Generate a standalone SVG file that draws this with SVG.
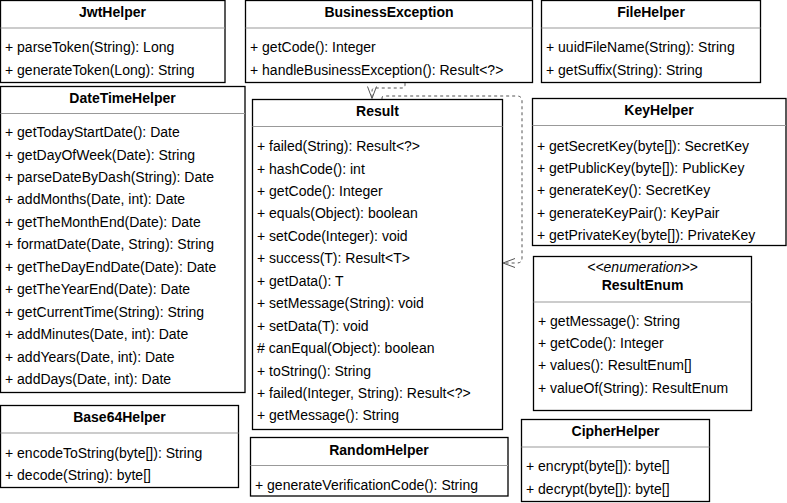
<svg xmlns="http://www.w3.org/2000/svg" width="787" height="503" viewBox="0 0 787 503">
<defs>
<style>
.box{fill:#fff;stroke:#000;stroke-width:1.3}
.div{stroke:#999;stroke-width:1}
text{font-family:"Liberation Sans",Arial,Helvetica,sans-serif;font-size:14px;fill:#000}
.t{font-weight:bold;text-anchor:middle}
.st{font-style:italic;text-anchor:middle}
.conn{fill:none;stroke:#555;stroke-width:1;stroke-dasharray:3 3}
</style>
<marker id="open" markerUnits="userSpaceOnUse" markerWidth="14" markerHeight="10" refX="12" refY="4.5" orient="auto" overflow="visible">
<path d="M0,0 L12,4.5 L0,9" fill="none" stroke="#555" stroke-width="1"/>
</marker>
</defs>
<rect width="787" height="503" fill="#fff"/>

<g id="JwtHelper">
<rect class="box" x="0.5" y="0.5" width="224.5" height="82"/>
<line class="div" x1="0.5" y1="28" x2="225" y2="28"/>
<text class="t" x="112.5" y="16.5">JwtHelper</text>
<text x="5" y="52">+ parseToken(String): Long</text>
<text x="5" y="75">+ generateToken(Long): String</text>
</g>

<g id="BusinessException">
<rect class="box" x="245.5" y="0.5" width="287" height="82"/>
<line class="div" x1="245.5" y1="28" x2="532.5" y2="28"/>
<text class="t" x="389" y="16.5">BusinessException</text>
<text x="250" y="52">+ getCode(): Integer</text>
<text x="250" y="75">+ handleBusinessException(): Result&lt;?&gt;</text>
</g>

<g id="FileHelper">
<rect class="box" x="541.5" y="0.5" width="219" height="82"/>
<line class="div" x1="541.5" y1="28" x2="760.5" y2="28"/>
<text class="t" x="651" y="16.5">FileHelper</text>
<text x="546" y="52">+ uuidFileName(String): String</text>
<text x="546" y="75">+ getSuffix(String): String</text>
</g>

<g id="DateTimeHelper">
<rect class="box" x="0.5" y="86.5" width="244.5" height="306"/>
<line class="div" x1="0.5" y1="113.5" x2="245" y2="113.5"/>
<text class="t" x="122.5" y="102.5">DateTimeHelper</text>
<text x="5" y="137">+ getTodayStartDate(): Date</text>
<text x="5" y="159.5">+ getDayOfWeek(Date): String</text>
<text x="5" y="181.9">+ parseDateByDash(String): Date</text>
<text x="5" y="204.3">+ addMonths(Date, int): Date</text>
<text x="5" y="226.8">+ getTheMonthEnd(Date): Date</text>
<text x="5" y="249.2">+ formatDate(Date, String): String</text>
<text x="5" y="271.7">+ getTheDayEndDate(Date): Date</text>
<text x="5" y="294.1">+ getTheYearEnd(Date): Date</text>
<text x="5" y="316.6">+ getCurrentTime(String): String</text>
<text x="5" y="339">+ addMinutes(Date, int): Date</text>
<text x="5" y="361.5">+ addYears(Date, int): Date</text>
<text x="5" y="383.9">+ addDays(Date, int): Date</text>
</g>

<g id="Result">
<rect class="box" x="252.5" y="99.5" width="250" height="330"/>
<line class="div" x1="252.5" y1="126.5" x2="502.5" y2="126.5"/>
<text class="t" x="377.5" y="115.5">Result</text>
<text x="257" y="151">+ failed(String): Result&lt;?&gt;</text>
<text x="257" y="173.5">+ hashCode(): int</text>
<text x="257" y="195.9">+ getCode(): Integer</text>
<text x="257" y="218.4">+ equals(Object): boolean</text>
<text x="257" y="240.8">+ setCode(Integer): void</text>
<text x="257" y="263.3">+ success(T): Result&lt;T&gt;</text>
<text x="257" y="285.7">+ getData(): T</text>
<text x="257" y="308.2">+ setMessage(String): void</text>
<text x="257" y="330.6">+ setData(T): void</text>
<text x="257" y="353.1">#  canEqual(Object): boolean</text>
<text x="257" y="375.5">+ toString(): String</text>
<text x="257" y="398">+ failed(Integer, String): Result&lt;?&gt;</text>
<text x="257" y="420.4">+ getMessage(): String</text>
</g>

<g id="KeyHelper">
<rect class="box" x="532.5" y="98.5" width="253.5" height="147"/>
<line class="div" x1="532.5" y1="125.5" x2="786" y2="125.5"/>
<text class="t" x="659" y="115">KeyHelper</text>
<text x="537" y="150.5">+ getSecretKey(byte[]): SecretKey</text>
<text x="537" y="173">+ getPublicKey(byte[]): PublicKey</text>
<text x="537" y="195.4">+ generateKey(): SecretKey</text>
<text x="537" y="217.9">+ generateKeyPair(): KeyPair</text>
<text x="537" y="240.3">+ getPrivateKey(byte[]): PrivateKey</text>
</g>

<g id="ResultEnum">
<rect class="box" x="533.5" y="256.5" width="218" height="154"/>
<line class="div" x1="533.5" y1="302" x2="751.5" y2="302"/>
<text class="st" x="642.5" y="272">&lt;&lt;enumeration&gt;&gt;</text>
<text class="t" x="642.5" y="289.5">ResultEnum</text>
<text x="538" y="325.5">+ getMessage(): String</text>
<text x="538" y="348">+ getCode(): Integer</text>
<text x="538" y="370.4">+ values(): ResultEnum[]</text>
<text x="538" y="392.9">+ valueOf(String): ResultEnum</text>
</g>

<g id="Base64Helper">
<rect class="box" x="0.5" y="405.5" width="238" height="82"/>
<line class="div" x1="0.5" y1="433" x2="238.5" y2="433"/>
<text class="t" x="119.5" y="422">Base64Helper</text>
<text x="5" y="457.5">+ encodeToString(byte[]): String</text>
<text x="5" y="480">+ decode(String): byte[]</text>
</g>

<g id="RandomHelper">
<rect class="box" x="250.5" y="437.5" width="257.5" height="58.5"/>
<line class="div" x1="250.5" y1="465.5" x2="508" y2="465.5"/>
<text class="t" x="379" y="454.5">RandomHelper</text>
<text x="255" y="490">+ generateVerificationCode(): String</text>
</g>

<g id="CipherHelper">
<rect class="box" x="521.5" y="419.5" width="188" height="82"/>
<line class="div" x1="521.5" y1="447" x2="709.5" y2="447"/>
<text class="t" x="615.5" y="436">CipherHelper</text>
<text x="526" y="471">+ encrypt(byte[]): byte[]</text>
<text x="526" y="493.5">+ decrypt(byte[]): byte[]</text>
</g>

<g id="connectors">
<path class="conn" d="M405,83 L405,85 Q405,88 402,88 L375,88 Q372,88 372,91 L372,98.5" marker-end="url(#open)"/>
<path class="conn" d="M382,99 L382,98 Q382,96 384,96 L517,96 Q522,96 522,101 L522,258 Q522,263 517,263 L503,263" marker-end="url(#open)"/>
</g>
</svg>
